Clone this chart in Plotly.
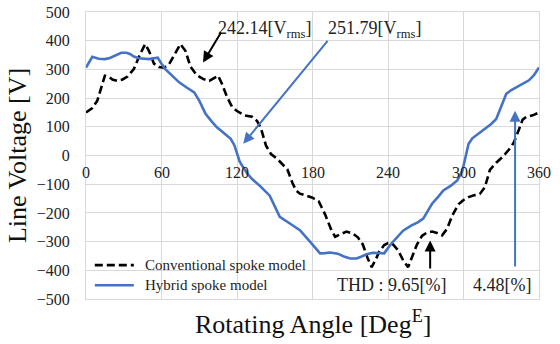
import plotly.graph_objects as go

# Rotating angle (electrical degrees) and line voltage samples
conv_angle = [0, 5, 9, 13, 15, 18, 21, 25, 29, 33, 38, 43, 47, 50, 54, 58, 62, 66, 70, 75,
              79, 83, 88, 93, 98, 102, 105, 108, 112, 116, 120, 126, 132, 136, 139, 143, 147,
              152, 156, 160, 164, 167, 170, 175, 180, 185, 190, 195, 198, 202, 207, 212, 216,
              220, 224, 227, 230, 233, 237, 240, 244, 248, 252, 256, 259, 263, 267, 271, 275,
              279, 283, 287, 291, 296, 300, 304, 309, 313, 317, 321, 326, 331, 336, 340, 344,
              347, 350, 355, 360]
conv_volt = [150, 165, 191, 250, 278, 275, 265, 260, 265, 275, 301, 353, 388, 365, 320, 308,
             306, 318, 350, 388, 365, 310, 280, 267, 260, 272, 278, 250, 205, 170, 155, 140,
             135, 120, 95, 35, 5, -12, -30, -48, -95, -122, -133, -140, -147, -160, -205, -260,
             -283, -275, -265, -272, -285, -310, -360, -389, -365, -335, -312, -305, -310, -330,
             -365, -389, -355, -310, -280, -268, -265, -270, -278, -255, -210, -170, -155, -145,
             -138, -134, -110, -50, -25, -5, 20, 45, 90, 125, 135, 140, 150]

hyb_angle = [0, 3, 5, 10, 15, 19, 24, 28, 32, 35, 38, 42, 50, 54, 57, 60, 63, 68, 74, 80, 86,
             90, 95, 100, 104, 110, 115, 118, 120, 122, 124, 128, 132, 138, 146, 150, 154, 162,
             170, 178, 183, 186, 190, 194, 200, 205, 210, 215, 219, 223, 228, 233, 237, 242,
             246, 252, 258, 264, 268, 272, 275, 280, 284, 290, 295, 299, 302, 304, 307, 312,
             318, 322, 326, 330, 334, 338, 343, 348, 352, 356, 360]
hyb_volt = [306, 330, 344, 337, 336, 340, 350, 358, 358, 354, 345, 339, 336, 340, 341, 320,
            301, 280, 255, 237, 220, 191, 145, 118, 98, 77, 58, 35, 6, -20, -35, -62, -82,
            -105, -140, -175, -214, -237, -260, -300, -328, -341, -340, -338, -342, -352, -359,
            -359, -352, -344, -339, -339, -341, -310, -290, -262, -245, -232, -220, -190, -168,
            -143, -122, -105, -87, -55, 0, 40, 60, 77, 95, 110, 127, 170, 215, 228, 240, 251,
            262, 280, 307]

series_names = ["Conventional spoke model", "Hybrid spoke model"]
x_ticks = [0, 60, 120, 180, 240, 300, 360]
y_ticks = list(range(-500, 501, 100))

SERIF = "Liberation Serif, Times New Roman, serif"
BLUE = "#4472C4"
GRID = "#d9d9d9"
CONV_LINE = dict(color="black", width=2.6, dash="8px,4px")
HYB_LINE = dict(color=BLUE, width=2.6)

fig = go.Figure()
fig.add_trace(go.Scatter(x=conv_angle, y=conv_volt, mode="lines", name=series_names[0],
                         line=CONV_LINE))
fig.add_trace(go.Scatter(x=hyb_angle, y=hyb_volt, mode="lines", name=series_names[1],
                         line=HYB_LINE))

annotations = []
# x tick labels sit on the zero line
for t in x_ticks:
    annotations.append(dict(x=t, y=0, xref="x", yref="y", text=str(t), showarrow=False,
                            yanchor="top", yshift=-6, font=dict(size=16, color="#222")))

# RMS labels and arrows
annotations += [
    dict(x=103, y=440, xref="x", yref="y", text="242.14[V<sub>rms</sub>]", showarrow=False,
         xanchor="left", font=dict(size=18, color="#222")),
    dict(x=191, y=440, xref="x", yref="y", text="251.79[V<sub>rms</sub>]", showarrow=False,
         xanchor="left", font=dict(size=18, color="#222")),
    dict(x=93, y=324, ax=108, ay=434, xref="x", yref="y", axref="x", ayref="y", text="",
         showarrow=True, arrowhead=2, arrowsize=1.1, arrowwidth=2, arrowcolor="black"),
    dict(x=125, y=41, ax=193, ay=405, xref="x", yref="y", axref="x", ayref="y", text="",
         showarrow=True, arrowhead=2, arrowsize=1.1, arrowwidth=2, arrowcolor=BLUE),
    # THD labels and arrows
    dict(x=198, y=-452, xref="x", yref="y", text="THD : 9.65[%]", showarrow=False,
         xanchor="left", font=dict(size=18, color="#222")),
    dict(x=306, y=-452, xref="x", yref="y", text="4.48[%]", showarrow=False,
         xanchor="left", font=dict(size=18, color="#222")),
    dict(x=273.5, y=-296, ax=273.5, ay=-399, xref="x", yref="y", axref="x", ayref="y", text="",
         showarrow=True, arrowhead=2, arrowsize=1.1, arrowwidth=2, arrowcolor="black"),
    dict(x=341, y=156, ax=341, ay=-392, xref="x", yref="y", axref="x", ayref="y", text="",
         showarrow=True, arrowhead=2, arrowsize=1.1, arrowwidth=2, arrowcolor=BLUE),
    # x axis title
    dict(x=0.5, y=-0.083, xref="paper", yref="paper", text="Rotating Angle [Deg<sup>E</sup>]",
         showarrow=False, yanchor="middle", font=dict(size=26, color="#111")),
]

# legend drawn inside the plot's lower-left corner
shapes = []
legend_rows = [(series_names[0], CONV_LINE, -382), (series_names[1], HYB_LINE, -452)]
for name, style, yv in legend_rows:
    shapes.append(dict(type="line", xref="x", yref="y", x0=7, x1=38, y0=yv, y1=yv,
                       line=style))
    annotations.append(dict(x=45, y=yv, xref="x", yref="y", text=name, showarrow=False,
                            xanchor="left", yanchor="middle",
                            font=dict(size=15, color="#222")))

fig.update_layout(
    width=560, height=344,
    margin=dict(l=86, r=21, t=12, b=45),
    paper_bgcolor="white", plot_bgcolor="white",
    font=dict(family=SERIF, color="#222"),
    showlegend=False,
    annotations=annotations,
    shapes=shapes,
    xaxis=dict(range=[0, 360], tickvals=x_ticks, showticklabels=False, showgrid=True,
               gridcolor=GRID, gridwidth=1, zeroline=False, showline=True, linecolor=GRID,
               mirror=True, ticks="", automargin=False),
    yaxis=dict(range=[-500, 500], tickvals=y_ticks, showgrid=True, gridcolor=GRID, gridwidth=1,
               zeroline=False, showline=True, linecolor=GRID, mirror=True, ticks="",
               automargin=False, ticklabelstandoff=12,
               tickfont=dict(size=16, family=SERIF, color="#222"),
               title=dict(text="Line Voltage [V]", font=dict(size=26, family=SERIF, color="#111"),
                          standoff=2)),
)

fig.write_html("out.html")
